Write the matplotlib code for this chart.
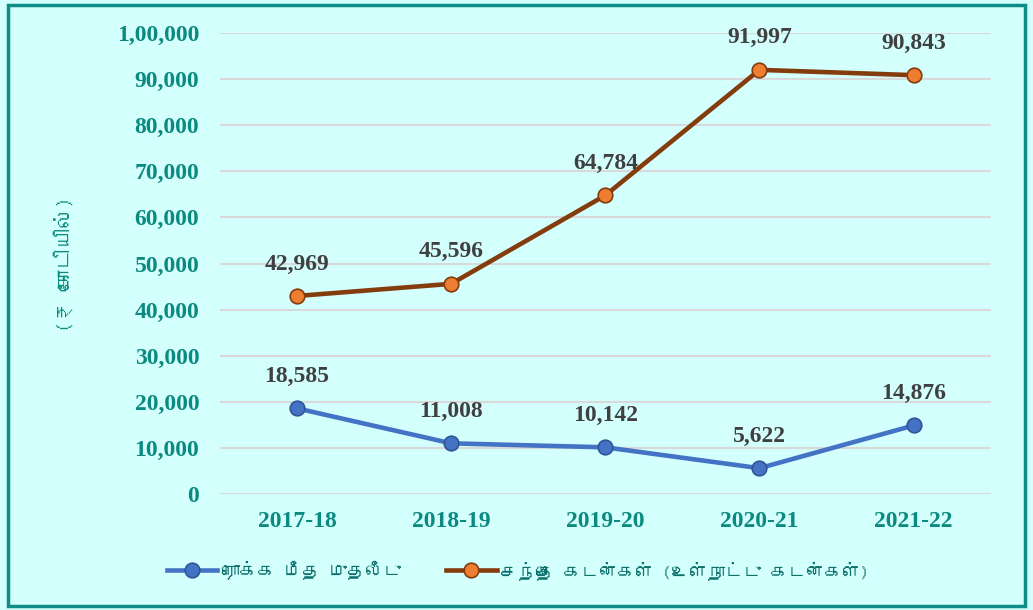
import matplotlib.pyplot as plt
from matplotlib import font_manager
from matplotlib.ft2font import FT2Font
from matplotlib.patches import Rectangle

years = ["2017-18", "2018-19", "2019-20", "2020-21", "2021-22"]
equity = [18585, 11008, 10142, 5622, 14876]
market_loans = [42969, 45596, 64784, 91997, 90843]
y_ticks = [0, 10000, 20000, 30000, 40000, 50000, 60000, 70000, 80000, 90000, 100000]
y_tick_labels = ["0", "10,000", "20,000", "30,000", "40,000", "50,000",
                 "60,000", "70,000", "80,000", "90,000", "1,00,000"]
equity_name = "ரொக்க மீத முதலீடு"
loans_name = "சந்தை கடன்கள் (உள்நாட்டு கடன்கள்)"
y_title = "(₹ கோடியில்)"

# look for any installed family that covers Tamil
tamil_fams = []
for f in font_manager.fontManager.ttflist:
    try:
        if 0x0B95 in FT2Font(f.fname).get_charmap() and f.name not in tamil_fams:
            tamil_fams.append(f.name)
    except Exception:
        pass
text_fams = tamil_fams[:1] + ["DejaVu Sans"]

bg = "#D3FFFD"
teal = "#0A8A80"

fig = plt.figure(figsize=(10.33, 6.10), dpi=100, facecolor=bg)
ax = fig.add_axes([0.213, 0.19, 0.746, 0.756])
ax.set_facecolor(bg)

x = list(range(len(years)))
ax.plot(x, equity, color="#4472C4", lw=3.3, marker="o", ms=10.5,
        mfc="#4472C4", mec="#2F5597", mew=1.2, label=equity_name, zorder=3)
ax.plot(x, market_loans, color="#843C0C", lw=3.3, marker="o", ms=10.5,
        mfc="#ED7D31", mec="#843C0C", mew=1.2, label=loans_name, zorder=3)

for xi, v in zip(x, equity):
    ax.annotate(f"{v:,}", (xi, v), xytext=(0, 23), textcoords="offset points",
                ha="center", va="center", fontsize=17, fontweight="bold",
                family="Liberation Serif", color="#404040")
for xi, v in zip(x, market_loans):
    ax.annotate(f"{v:,}", (xi, v), xytext=(0, 23), textcoords="offset points",
                ha="center", va="center", fontsize=17, fontweight="bold",
                family="Liberation Serif", color="#404040")

ax.set_xlim(-0.5, len(years) - 0.5)
ax.set_ylim(0, 100000)
ax.set_yticks(y_ticks)
ax.set_yticklabels(y_tick_labels)
ax.set_xticks(x)
ax.set_xticklabels(years)
for lab in ax.get_xticklabels() + ax.get_yticklabels():
    lab.set_family("Liberation Serif")
    lab.set_fontweight("bold")
    lab.set_fontsize(17)
    lab.set_color(teal)
ax.tick_params(axis="y", length=0, pad=15)
ax.tick_params(axis="x", length=0, pad=12)
ax.grid(axis="y", color="#D9D9D9", lw=1.5)
ax.set_axisbelow(True)
for s in ax.spines.values():
    s.set_visible(False)

fig.text(65 / 1033, 1 - 264 / 610, y_title, rotation=90, ha="center", va="center",
         fontsize=15, style="italic", color=teal, family=text_fams)

leg = fig.legend(loc="center", bbox_to_anchor=(518 / 1033, 1 - 570 / 610), ncol=2,
                 frameon=False, handlelength=2.8, columnspacing=2.5,
                 handletextpad=0.2, prop={"family": text_fams, "size": 13})
for t in leg.get_texts():
    t.set_color("#0B6F6B")

fig.patches.append(Rectangle((8 / 1033, 4 / 610), 1017 / 1033, 601 / 610,
                             transform=fig.transFigure, fill=False,
                             edgecolor="#0E8C87", lw=2.5))

fig.savefig("out.png", dpi=100, facecolor=bg)
